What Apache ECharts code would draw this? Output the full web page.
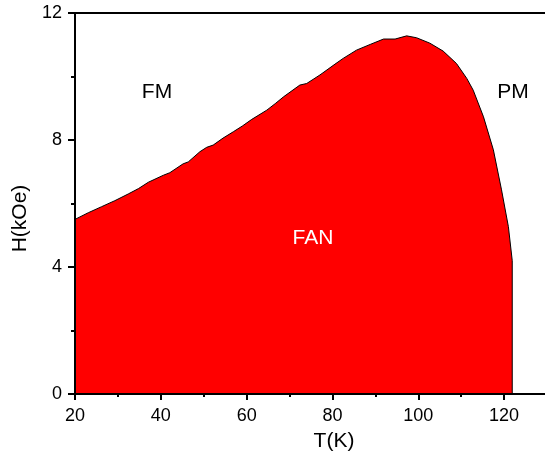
<!DOCTYPE html>
<html>
<head>
<meta charset="utf-8">
<script src="https://cdn.jsdelivr.net/npm/echarts@6/dist/echarts.min.js"></script>
<style>
  html, body { margin: 0; padding: 0; background: #fff; }
  #chart { width: 545px; height: 453px; }
</style>
</head>
<body>
<div id="chart"></div>
<script>
// Phase boundary between FAN and FM / PM states: temperature (K) and critical field (kOe)
const temperature = [20, 23.1, 26.2, 29.3, 32.4, 34.8, 37.1, 40.6, 42.1, 45.2, 46.4, 49.1, 50.7,
  52.2, 54.5, 56.9, 59.0, 61.2, 64.7, 66.8, 68.6, 72.4, 74.0, 77.1, 80.6, 82.5, 85.6,
  88.8, 91.9, 94.6, 97.3, 99.6, 102.7, 105.8, 108.9, 111.3, 112.8, 115.2, 117.5,
  119.4, 121.0, 121.9, 121.9];
const fieldKOe = [5.50, 5.71, 5.90, 6.09, 6.30, 6.47, 6.67, 6.89, 6.97, 7.25, 7.31, 7.63, 7.77,
  7.84, 8.06, 8.26, 8.44, 8.65, 8.94, 9.16, 9.36, 9.73, 9.78, 10.05, 10.39, 10.57, 10.83,
  11.01, 11.18, 11.18, 11.28, 11.22, 11.05, 10.80, 10.41, 9.94, 9.57, 8.73, 7.69,
  6.43, 5.27, 4.20, 0];

const xTicks = { min: 20, max: 130, step: 20 };
const yTicks = { min: 0, max: 12, step: 4 };

const regionLabels = [
  { text: 'FM', x: 157, y: 92, color: '#000' },
  { text: 'PM', x: 513, y: 92, color: '#000' },
  { text: 'FAN', x: 313, y: 238, color: '#fff' }
];

const font = '"Liberation Sans", Arial, sans-serif';
const chart = echarts.init(document.getElementById('chart'), null, { renderer: 'canvas' });

const axisLine = { show: true, onZero: false, lineStyle: { color: '#000', width: 2 } };

chart.setOption({
  animation: false,
  backgroundColor: '#fff',
  grid: { left: 75, top: 13, width: 472, height: 381, containLabel: false, outerBoundsMode: 'none' },
  xAxis: [{
    type: 'value', position: 'bottom', z: 5,
    min: xTicks.min, max: xTicks.max, interval: xTicks.step,
    name: 'T(K)', nameLocation: 'middle', nameGap: 37,
    nameTextStyle: { fontFamily: font, fontSize: 21, color: '#000', padding: [0, 0, 0, 46] },
    axisLine: axisLine,
    axisTick: { show: true, inside: false, length: 6, lineStyle: { color: '#000', width: 2 } },
    minorTick: { show: true, splitNumber: 2, length: 3, lineStyle: { color: '#000', width: 2 } },
    axisLabel: { fontFamily: font, fontSize: 18, color: '#000', margin: 13, showMaxLabel: false },
    splitLine: { show: false }
  }, {
    type: 'value', position: 'top', z: 5,
    min: xTicks.min, max: xTicks.max,
    axisLine: axisLine, axisTick: { show: false }, axisLabel: { show: false },
    splitLine: { show: false }
  }],
  yAxis: [{
    type: 'value', position: 'left', z: 5,
    min: yTicks.min, max: yTicks.max, interval: yTicks.step,
    name: 'H(kOe)', nameLocation: 'middle', nameGap: 31,
    nameTextStyle: { fontFamily: font, fontSize: 21, color: '#000', padding: [0, 30, 0, 0] },
    axisLine: axisLine,
    axisTick: { show: true, inside: false, length: 7, lineStyle: { color: '#000', width: 2 } },
    minorTick: { show: true, splitNumber: 2, length: 4, lineStyle: { color: '#000', width: 2 } },
    axisLabel: { fontFamily: font, fontSize: 18, color: '#000', margin: 13 },
    splitLine: { show: false }
  }],
  series: [{
    type: 'line',
    data: temperature.map((t, i) => [t, fieldKOe[i]]),
    showSymbol: false,
    symbol: 'none',
    smooth: false,
    z: 2,
    lineStyle: { color: '#000', width: 1 },
    areaStyle: { color: '#ff0000', opacity: 1 }
  }],
  graphic: regionLabels.map(l => ({
    type: 'text',
    x: l.x, y: l.y, z: 10,
    style: {
      text: l.text, fill: l.color, font: '21px ' + font,
      textAlign: 'center', textVerticalAlign: 'middle'
    }
  }))
});
</script>
</body>
</html>
